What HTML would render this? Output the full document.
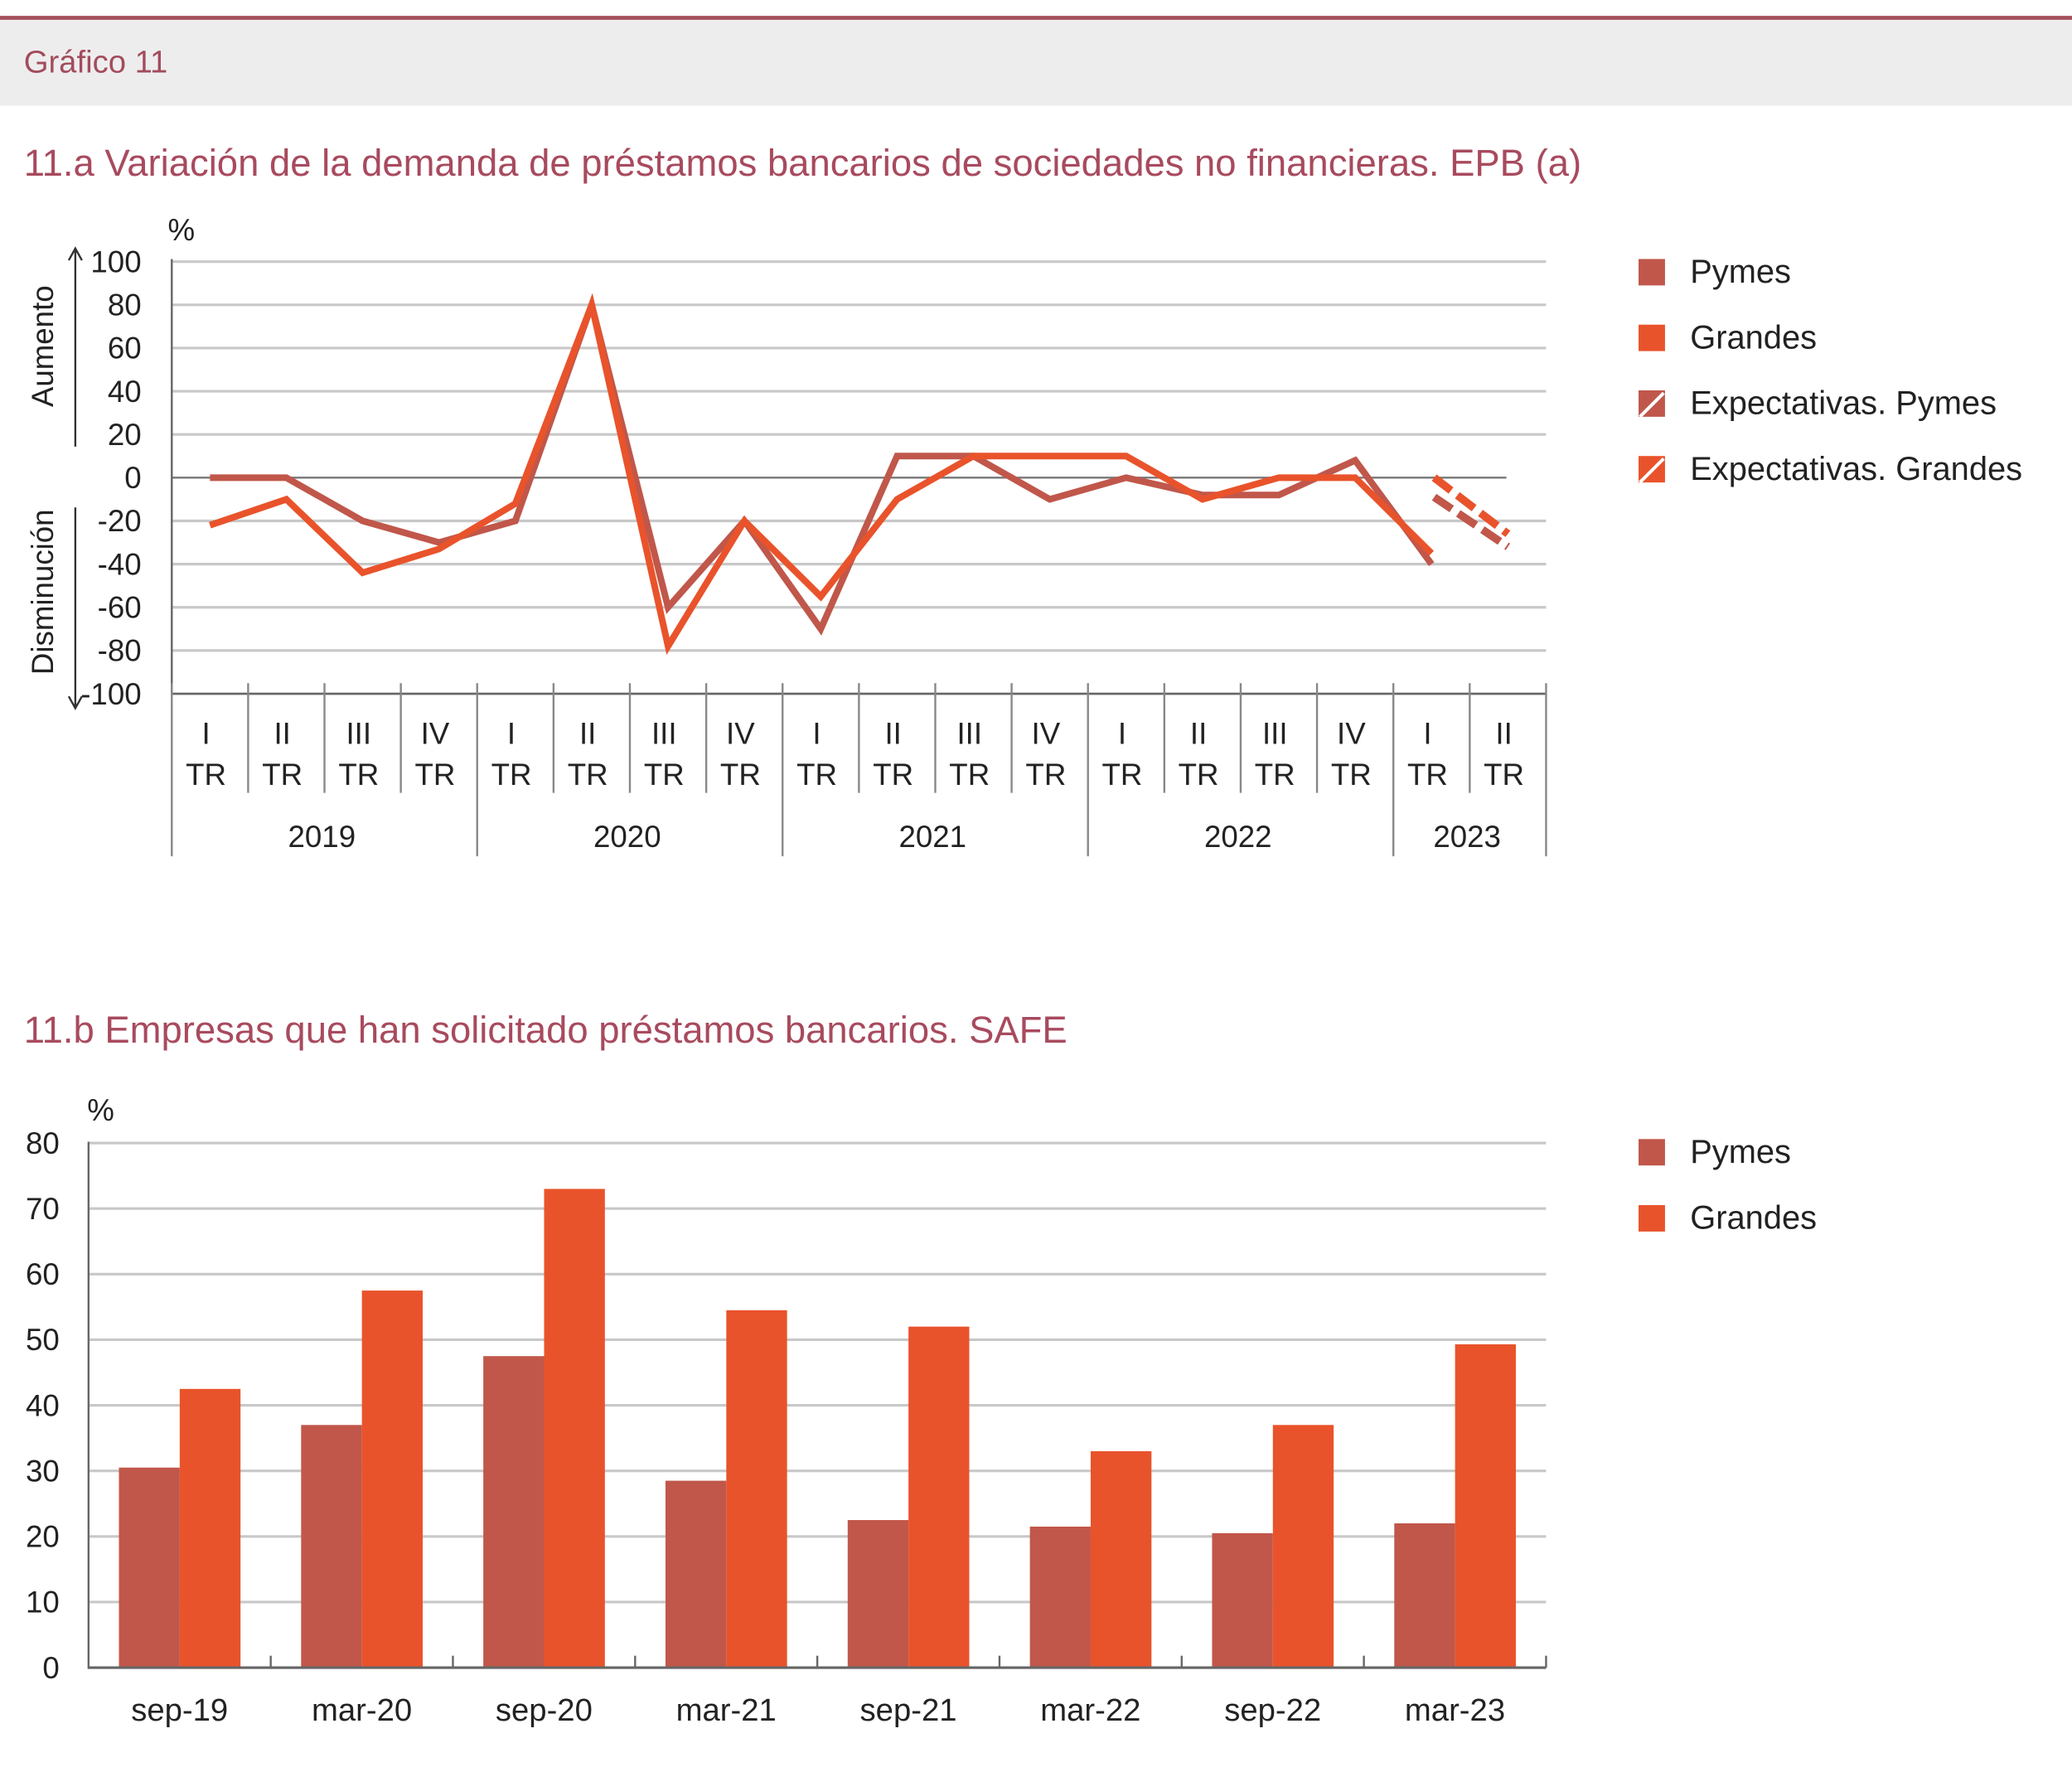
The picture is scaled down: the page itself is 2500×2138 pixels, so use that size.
<!DOCTYPE html>
<html><head><meta charset="utf-8"><style>
html,body{margin:0;padding:0;background:#fff;}
svg{display:block;}
text{font-family:"Liberation Sans",sans-serif;}
</style></head><body>
<svg id="s" width="2500" height="2138" viewBox="0 0 1568 1341" preserveAspectRatio="none">
<rect x="0" y="14" width="1568" height="66" fill="#eeedee"/>
<rect x="0" y="12" width="1568" height="3" fill="#a4505c"/>
<text x="18" y="55" font-size="24" fill="#a24c5c">Gráfico 11</text>
<text x="18" y="133" font-size="28.5" fill="#a84a5e">11.a  Variación de la demanda de préstamos bancarios de sociedades no financieras. EPB (a)</text>
<text x="18" y="789" font-size="28.5" fill="#a84a5e">11.b  Empresas que han solicitado préstamos bancarios. SAFE</text>
<g id="ca"></g>
<g id="cb"></g>
</svg>
<script>
const quarters=["I","II","III","IV","I","II","III","IV","I","II","III","IV","I","II","III","IV","I","II"];
const years=["2019","2020","2021","2022","2023"];
const pymesA=[0,0,-20,-30,-20,80,-60,-20,-70,10,10,-10,0,-8,-8,8,-40];
const grandesA=[-22,-10,-44,-33,-12,80,-78,-20,-55,-10,10,10,10,-10,0,0,-35];
const expPymes=[-9,-32];
const expGrandes=[0,-26];
const ticksA=[100,80,60,40,20,0,-20,-40,-60,-80,-100];
const catsB=["sep-19","mar-20","sep-20","mar-21","sep-21","mar-22","sep-22","mar-23"];
const pymesB=[30.5,37,47.5,28.5,22.5,21.5,20.5,22];
const grandesB=[42.5,57.5,73,54.5,52,33,37,49.3];
const ticksB=[80,70,60,50,40,30,20,10,0];
const CP="#c0574a",CG="#e9532b";
const NS="http://www.w3.org/2000/svg";
function mk(p,t,a,txt){const e=document.createElementNS(NS,t);for(const k in a)e.setAttribute(k,a[k]);if(txt!==undefined)e.textContent=txt;p.appendChild(e);return e;}
const FS=23;
// chart A
const ca=document.getElementById('ca');
const ax0=130,ax1=1170,n=18,cw=(ax1-ax0)/n;
const ya=v=>361.5-v*1.635;const xa=i=>ax0+cw*(i+0.5);
ticksA.forEach(t=>{
 const g=mk(ca,'line',{x1:130,x2:t===0?1140:1170,y1:ya(t),y2:ya(t),stroke:t===0?'#777':'#c8c8c8','stroke-width':t===0?1.5:2});
 
 
 const l=mk(ca,'text',{x:107,y:ya(t)+8,'font-size':FS,'text-anchor':'end',fill:'#222'},String(t));
 
 
});
mk(ca,'line',{x1:130,x2:130,y1:196,y2:525,stroke:'#666','stroke-width':1.5});
mk(ca,'line',{x1:130,x2:1170,y1:525,y2:525,stroke:'#666','stroke-width':1.5});
mk(ca,'text',{x:127,y:182,'font-size':FS,fill:'#222'},'%');
mk(ca,'path',{d:'M57 338V188M52 197L57 188L62 197M57 384V536M52 527L57 536L62 527',stroke:'#333','stroke-width':1.5,fill:'none'});
mk(ca,'text',{x:0,y:0,'font-size':FS,fill:'#222','text-anchor':'middle',transform:'translate(40,262) rotate(-90)'},'Aumento');
mk(ca,'text',{x:0,y:0,'font-size':FS,fill:'#222','text-anchor':'middle',transform:'translate(40,448) rotate(-90)'},'Disminución');
for(let i=0;i<=n;i++){const x=ax0+cw*i;const yr=(i%4===0)||i===n;
 const t=mk(ca,'line',{x1:x,x2:x,y1:517,y2:yr?648:600,stroke:'#888','stroke-width':1.5});
 
 }
quarters.forEach((q,i)=>{
 const a=mk(ca,'text',{x:xa(i)-3,y:563,'font-size':FS,'text-anchor':'middle',fill:'#222'},q);
 
 
 const b=mk(ca,'text',{x:xa(i)-3,y:594,'font-size':FS,'text-anchor':'middle',fill:'#222'},'TR');
 
 
});
years.forEach((y,i)=>{const s=ax0+cw*4*i,e=Math.min(ax1,s+cw*4);
 const t=mk(ca,'text',{x:(s+e)/2-2,y:641,'font-size':FS,'text-anchor':'middle',fill:'#222'},y);
 
 });
function line(data,c,nm){const p=mk(ca,'polyline',{points:data.map((v,i)=>xa(i)+','+ya(v)).join(' '),fill:'none',stroke:c,'stroke-width':5,'stroke-linejoin':'miter'});
 
 }
line(pymesA,CP,'line-pymes');line(grandesA,CG,'line-grandes');
function eline(data,c,nm){const p=mk(ca,'polyline',{points:data.map((v,i)=>(xa(16+i)+(i===0?2:0))+','+ya(v)).join(' '),fill:'none',stroke:c,'stroke-width':6,'stroke-dasharray':'16 6'});
 
 }
eline(expPymes,CP,'line-expectativas-pymes');eline(expGrandes,CG,'line-expectativas-grandes');
const legA=[["Pymes",CP,0],["Grandes",CG,0],["Expectativas. Pymes",CP,1],["Expectativas. Grandes",CG,1]];
legA.forEach((l,i)=>{const y=206+i*49.7;
 const r=mk(ca,'rect',{x:1240,y:y-10,width:20,height:20,fill:l[1]});
 
 
 if(l[2])mk(ca,'line',{x1:1241,y1:y+10,x2:1259,y2:y-8,stroke:'#fff','stroke-width':2.5});
 const t=mk(ca,'text',{x:1279,y:y+8,'font-size':25,fill:'#222'},l[0]);
 
 });
// chart B
const cb=document.getElementById('cb');
const bx0=67,bx1=1170,gw=(bx1-bx0)/8;const yb=v=>1262-v*4.9625;
ticksB.forEach(t=>{
 const g=mk(cb,'line',{x1:67,x2:1170,y1:yb(t),y2:yb(t),stroke:'#c8c8c8','stroke-width':2});
 
 
 const l=mk(cb,'text',{x:45,y:yb(t)+8,'font-size':FS,'text-anchor':'end',fill:'#222'},String(t));
 
 });
mk(cb,'text',{x:66,y:848,'font-size':FS,fill:'#222'},'%');
catsB.forEach((c,i)=>{const g0=bx0+gw*i;
 const a=mk(cb,'rect',{x:g0+23,y:yb(pymesB[i]),width:46,height:yb(0)-yb(pymesB[i]),fill:CP});
 
 
 const b=mk(cb,'rect',{x:g0+69,y:yb(grandesB[i]),width:46,height:yb(0)-yb(grandesB[i]),fill:CG});
 
 
 const t=mk(cb,'text',{x:g0+gw/2,y:1302,'font-size':FS+1,'text-anchor':'middle',fill:'#222'},c);
 
 });
mk(cb,'line',{x1:67,x2:67,y1:864,y2:1263,stroke:'#666','stroke-width':1.5});
mk(cb,'line',{x1:67,x2:1170,y1:1262,y2:1262,stroke:'#666','stroke-width':2});
for(let i=1;i<=8;i++){const x=bx0+gw*i;mk(cb,'line',{x1:x,x2:x,y1:1253,y2:1262,stroke:'#666','stroke-width':1.5});}
[["Pymes",CP],["Grandes",CG]].forEach((l,i)=>{const y=872+i*50;
 const r=mk(cb,'rect',{x:1240,y:y-10,width:20,height:20,fill:l[1]});
 
 
 const t=mk(cb,'text',{x:1279,y:y+8,'font-size':25,fill:'#222'},l[0]);
 
 });
</script>
</body></html>
